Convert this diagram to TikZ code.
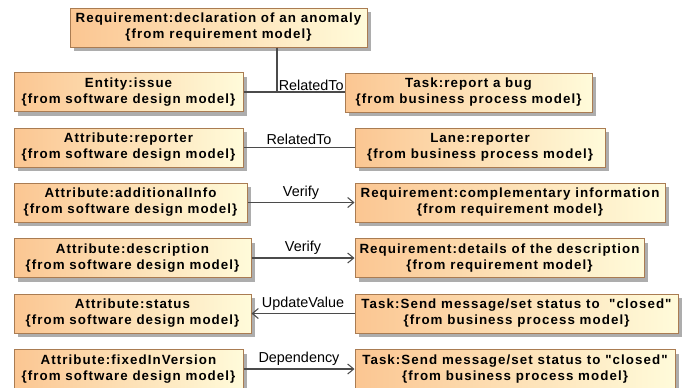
\documentclass[tikz,border=0pt]{standalone}
\usepackage{fontspec}
\setmainfont{Liberation Sans}
\newfontfamily\elemfont[LetterSpace=8]{Liberation Sans}
\usetikzlibrary{arrows.meta,shadows}

\definecolor{elemleft}{RGB}{251,198,146}
\definecolor{elemright}{RGB}{255,251,218}
\definecolor{elemborder}{RGB}{170,124,82}
\definecolor{relline}{RGB}{75,75,75}

\tikzset{every picture/.style={line width=0.75pt}}
\tikzset{
  elem/.style={draw=elemborder, left color=elemleft, right color=elemright,
    minimum width=#1*0.75pt, minimum height=29.25pt, inner sep=0pt, align=center,
    font=\elemfont\bfseries\fontsize{10}{12}\selectfont,
    drop shadow={shadow xshift=3pt, shadow yshift=-3pt, fill=black!32, opacity=1}},
  rel/.style={draw=relline, line width=0.8pt},
  relarrow/.style={rel, -{Straight Barb[length=4.5pt,width=7.5pt]}},
  rellabel/.style={font=\fontsize{10.8}{12}\selectfont, inner sep=1pt}
}

\begin{document}
\begin{tikzpicture}[x=0.75pt,y=0.75pt,yscale=-1,xscale=1]
		\useasboundingbox (0,0) rectangle (688,387); %diagram 688 x 387

		% elements
		\node[elem=297] (reqanomaly) at (218.5,27.5) {Requirement:declaration of an anomaly\\\{from requirement model\}};
		\node[elem=229] (issue) at (128.5,92) {Entity:issue\\\{from software design model\}};
		\node[elem=247] (reportbug) at (468.5,92.5) {Task:report a bug\\\{from business process model\}};
		\node[elem=229] (reporter) at (128.5,147.5) {Attribute:reporter\\\{from software design model\}};
		\node[elem=250] (lane) at (480,147.5) {Lane:reporter\\\{from business process model\}};
		\node[elem=233] (addinfo) at (130.5,202.5) {Attribute:additionalInfo\\\{from software design model\}};
		\node[elem=310] (reqcompl) at (510,202.5) {Requirement:complementary information\\\{from requirement model\}};
		\node[elem=237] (descr) at (132.5,258) {Attribute:description\\\{from software design model\}};
		\node[elem=289] (reqdetails) at (499.5,258) {Requirement:details of the description\\\{from requirement model\}};
		\node[elem=237] (status) at (132.5,313.5) {Attribute:status\\\{from software design model\}};
		\node[elem=323] (sendone) at (516.5,313.5) {Task:Send message/set status to~ "closed"\\\{from business process model\}};
		\node[elem=229] (fixedin) at (128.5,369) {Attribute:fixedInVersion\\\{from software design model\}};
		\node[elem=320] (sendtwo) at (515,369) {Task:Send message/set status to "closed"\\\{from business process model\}};

		% relations
		\coordinate (relissue) at (277,92);
		\draw[rel] (reqanomaly.south -| relissue) -- (relissue);
		\draw[rel] (issue.east) -- (issue.east -| reportbug.west);
		\node[rellabel, anchor=south west] (lblissue) at (relissue) {RelatedTo};

		\draw[rel] (reporter.east) -- (lane.west) node[rellabel, midway, above=1pt] (lblreporter) {RelatedTo};
		\draw[relarrow] (addinfo.east) -- (reqcompl.west) node[rellabel, midway, above=1pt] (lbladdinfo) {Verify};
		\draw[relarrow] (descr.east) -- (reqdetails.west) node[rellabel, midway, above=1pt] (lbldescr) {Verify};
		\draw[relarrow] (sendone.west) -- (status.east) node[rellabel, midway, above=1pt] (lblstatus) {UpdateValue};
		\draw[relarrow] (fixedin.east) -- (sendtwo.west) node[rellabel, midway, above=1pt] (lblfixed) {Dependency};

		\end{tikzpicture}
\end{document}
